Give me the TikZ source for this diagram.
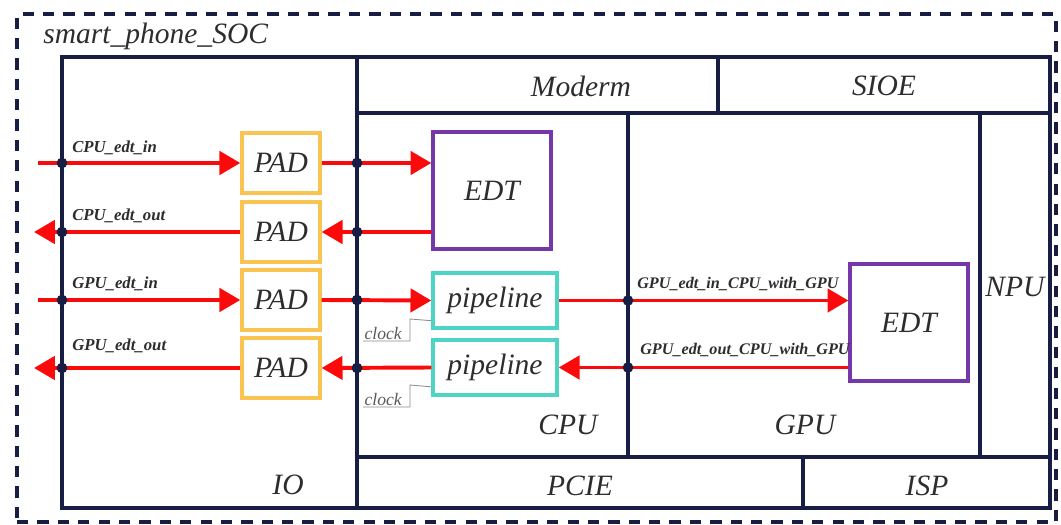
\documentclass[tikz,border=0pt]{standalone}
\usepackage{fontspec}
\setmainfont{Liberation Serif}
\usetikzlibrary{arrows.meta,fit}
\definecolor{navy}{RGB}{24,29,68}
\definecolor{txt}{RGB}{45,45,45}
\definecolor{padc}{RGB}{249,196,82}
\definecolor{edtc}{RGB}{118,56,168}
\definecolor{pipec}{RGB}{78,212,196}
\definecolor{sigred}{RGB}{250,10,10}
\tikzset{
  region/.style={draw=navy, line width=2.7pt, inner sep=0pt, outer sep=0pt},
  outerbox/.style={draw=navy, line width=2.6pt, inner sep=0pt, dash pattern=on 8pt off 6.5pt},
  lbl/.style={font=\fontsize{21}{24}\selectfont\itshape, text=txt, inner sep=0pt},
  padbox/.style={draw=padc, line width=2.4pt, minimum width=1.95cm, minimum height=1.5cm, font=\fontsize{21}{24}\selectfont\itshape, text=txt, inner sep=0pt},
  edtbox/.style={draw=edtc, line width=2.3pt, minimum width=2.95cm, minimum height=2.92cm, font=\fontsize{21}{24}\selectfont\itshape, text=txt, inner sep=0pt},
  pipebox/.style={draw=pipec, line width=2.4pt, minimum width=3.1cm, minimum height=1.375cm, font=\fontsize{21}{24}\selectfont\itshape, text=txt, inner sep=0pt},
  sig/.style={draw=sigred, line width=2.8pt, -{Triangle[length=0.52cm,width=0.58cm]}},
  siglbl/.style={font=\fontsize{11.9}{13}\selectfont\bfseries\itshape, text=txt, inner sep=0pt, anchor=base west},
  clk/.style={font=\fontsize{12.5}{14}\selectfont\itshape, text=black!65, inner sep=1pt, anchor=south west},
  callout/.style={draw=black!45, line width=0.6pt},
  junction/.style={fill=navy}
}
\begin{document}
\begin{tikzpicture}[x=0.025cm,y=-0.025cm]
\useasboundingbox (0,0) rectangle (1061,525);
% outer SOC boundary
\node[outerbox, fit={(17,14)(1056,522)}] (soc) {};
\node[lbl, anchor=base west] (soclbl) at (43,44) {smart\_phone\_SOC};
% regions
\node[region, fit={(62,57)(357,508)}] (io) {};
\node[region, fit={(357,57)(718,113)}] (moderm) {};
\node[region, fit={(718,57)(1050,113)}] (sioe) {};
\node[region, fit={(357,113)(628,457)}] (cpu) {};
\node[region, fit={(628,113)(980,457)}] (gpu) {};
\node[region, fit={(980,113)(1050,457)}] (npu) {};
\node[region, fit={(357,457)(803,508)}] (pcie) {};
\node[region, fit={(803,457)(1050,508)}] (isp) {};
\node[lbl] (iolbl) at (288,485) {IO};
\node[lbl] (modermlbl) at (581,86) {Moderm};
\node[lbl] (sioelbl) at (884,86) {SIOE};
\node[lbl] (cpulbl) at (568,425) {CPU};
\node[lbl] (gpulbl) at (805,425) {GPU};
\node[lbl] (npulbl) at (1015,287) {NPU};
\node[lbl] (pcielbl) at (580,486) {PCIE};
\node[lbl] (isplbl) at (927,486) {ISP};
% blocks
\node[padbox] (pad1) at (281,163) {PAD};
\node[padbox] (pad2) at (281,232) {PAD};
\node[padbox] (pad3) at (281,300) {PAD};
\node[padbox] (pad4) at (281,368) {PAD};
\node[edtbox] (edt1) at (492,190.5) {EDT};
\node[edtbox] (edt2) at (909,322.5) {EDT};
\node[pipebox] (pipe1) at (495,300.5) {pipeline};
\node[pipebox] (pipe2) at (495,367.5) {pipeline};
% free ends
\coordinate (in1) at (38,163);
\coordinate (out1) at (34,232);
\coordinate (in2) at (38,300);
\coordinate (out2) at (34,368);
% signals
\draw[sig] (in1) -- (pad1.west);
\draw[sig] (pad1.east) -- (pad1.east -| edt1.west);
\draw[sig] (pad2.east -| edt1.west) -- (pad2.east);
\draw[sig] (pad2.west) -- (out1);
\draw[sig] (in2) -- (pad3.west);
\draw[sig] (pad3.east) -- (pipe1.west);
\draw[sig] (pipe1.east) -- (pipe1.east -| edt2.west);
\draw[sig] (pipe2.east -| edt2.west) -- (pipe2.east);
\draw[sig] (pipe2.west) -- (pad4.east);
\draw[sig] (pad4.west) -- (out2);
% junctions
\foreach \r in {pad1,pad2,pad3,pad4}{
  \fill[junction] (\r.center -| io.west) circle (3.8pt);
  \fill[junction] (\r.center -| io.east) circle (3.8pt);
}
\fill[junction] (pipe1.center -| gpu.west) circle (3.8pt);
\fill[junction] (pipe2.center -| gpu.west) circle (3.8pt);
% signal labels
\node[siglbl] (l1) at (72,153) {CPU\_edt\_in};
\node[siglbl] (l2) at (72,221) {CPU\_edt\_out};
\node[siglbl] (l3) at (72,289) {GPU\_edt\_in};
\node[siglbl] (l4) at (72,351) {GPU\_edt\_out};
\node[siglbl, font=\fontsize{11.5}{13}\selectfont\bfseries\itshape] (l5) at (637,288) {GPU\_edt\_in\_CPU\_with\_GPU};
\node[siglbl, font=\fontsize{11.5}{13}\selectfont\bfseries\itshape] (l6) at (640,354) {GPU\_edt\_out\_CPU\_with\_GPU};
% clock callouts
\node[clk] (clk1) at (363,341) {clock};
\node[clk] (clk2) at (363,407) {clock};
\draw[callout] (clk1.south west) -- (410,341) -- (410,319) -- ([yshift=6.4pt]pipe1.south west);
\draw[callout] (clk2.south west) -- (410,407) -- (410,385) -- ([yshift=7pt]pipe2.south west);
\end{tikzpicture}
\end{document}
